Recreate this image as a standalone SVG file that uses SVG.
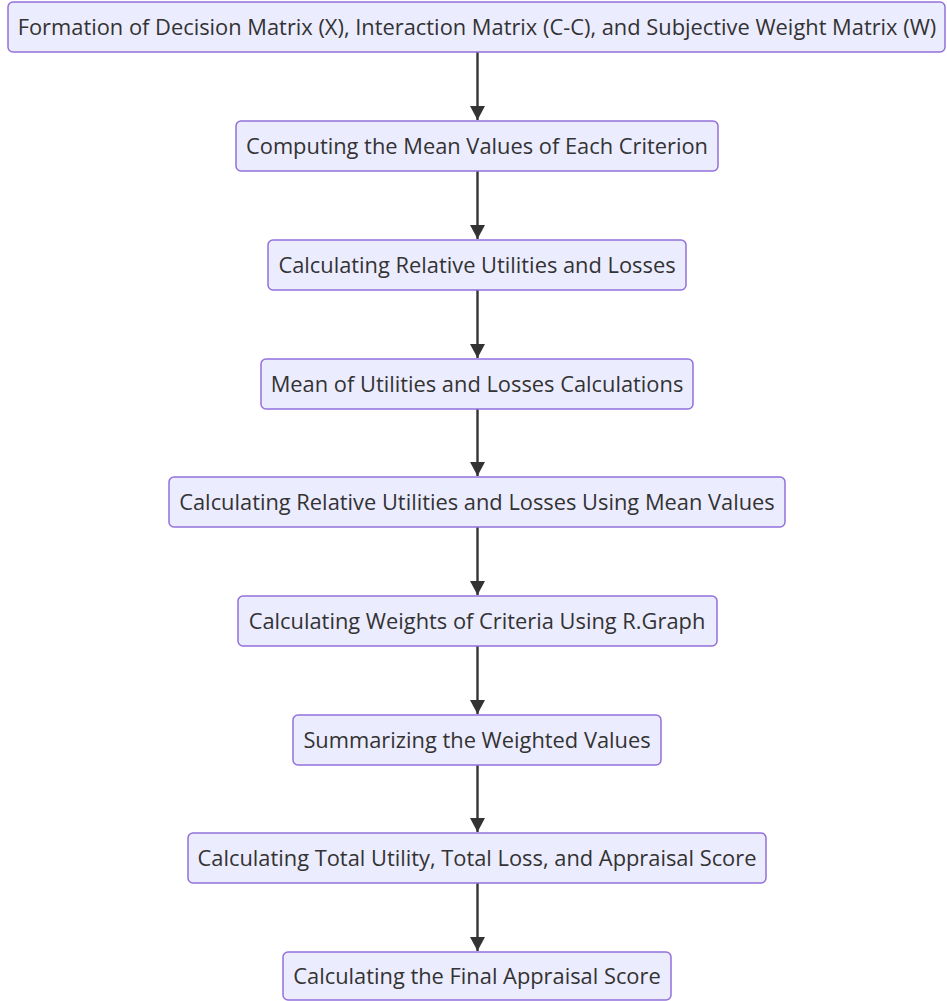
<svg xmlns="http://www.w3.org/2000/svg" width="947" height="1001" viewBox="0 0 947 1001">
  <style>
    .node rect { fill: #ECECFF; stroke: #9370DB; stroke-width: 1.5; }
    .node text { font-family: "Open Sans", "Liberation Sans", sans-serif; font-size: 21.85px; fill: #333333; text-anchor: middle; dominant-baseline: central; }
    .edge { stroke: #333333; stroke-width: 2.4; fill: none; }
  </style>
  <defs>
    <marker id="arrow" viewBox="0 0 15 16" refX="15" refY="8" markerWidth="16" markerHeight="15" markerUnits="userSpaceOnUse" orient="auto">
      <path d="M0,0 L15,8 L0,16 z" fill="#333333"/>
    </marker>
  </defs>
  <rect width="947" height="1001" fill="#ffffff"/>

  <g id="connectors">
    <path class="edge" d="M477.5,52 V120" marker-end="url(#arrow)"/>
    <path class="edge" d="M477.5,171 V239" marker-end="url(#arrow)"/>
    <path class="edge" d="M477.5,290 V358" marker-end="url(#arrow)"/>
    <path class="edge" d="M477.5,409 V476" marker-end="url(#arrow)"/>
    <path class="edge" d="M477.5,527 V595" marker-end="url(#arrow)"/>
    <path class="edge" d="M477.5,646 V714" marker-end="url(#arrow)"/>
    <path class="edge" d="M477.5,765 V832" marker-end="url(#arrow)"/>
    <path class="edge" d="M477.5,883 V951" marker-end="url(#arrow)"/>
  </g>

  <g id="formation" class="node">
    <rect x="8" y="2" width="937" height="50" rx="5"/>
    <text x="477" y="26.5">Formation of Decision Matrix (X), Interaction Matrix (C-C), and Subjective Weight Matrix (W)</text>
  </g>
  <g id="mean-values" class="node">
    <rect x="236" y="121" width="482" height="50" rx="5"/>
    <text x="477" y="145.5">Computing the Mean Values of Each Criterion</text>
  </g>
  <g id="relative-utilities" class="node">
    <rect x="268" y="240" width="418" height="50" rx="5"/>
    <text x="477" y="264.5">Calculating Relative Utilities and Losses</text>
  </g>
  <g id="mean-utilities" class="node">
    <rect x="261" y="359" width="432" height="50" rx="5"/>
    <text x="477" y="383.5">Mean of Utilities and Losses Calculations</text>
  </g>
  <g id="relative-mean" class="node">
    <rect x="169" y="477" width="616" height="50" rx="5"/>
    <text x="477" y="501.5">Calculating Relative Utilities and Losses Using Mean Values</text>
  </g>
  <g id="weights" class="node">
    <rect x="238" y="596" width="479" height="50" rx="5"/>
    <text x="477" y="620.5">Calculating Weights of Criteria Using R.Graph</text>
  </g>
  <g id="summarizing" class="node">
    <rect x="293" y="715" width="368" height="50" rx="5"/>
    <text x="477" y="739.5">Summarizing the Weighted Values</text>
  </g>
  <g id="totals" class="node">
    <rect x="188" y="833" width="578" height="50" rx="5"/>
    <text x="477" y="857.5">Calculating Total Utility, Total Loss, and Appraisal Score</text>
  </g>
  <g id="final-score" class="node">
    <rect x="283" y="952" width="388" height="48" rx="5"/>
    <text x="477" y="975.5">Calculating the Final Appraisal Score</text>
  </g>
</svg>
